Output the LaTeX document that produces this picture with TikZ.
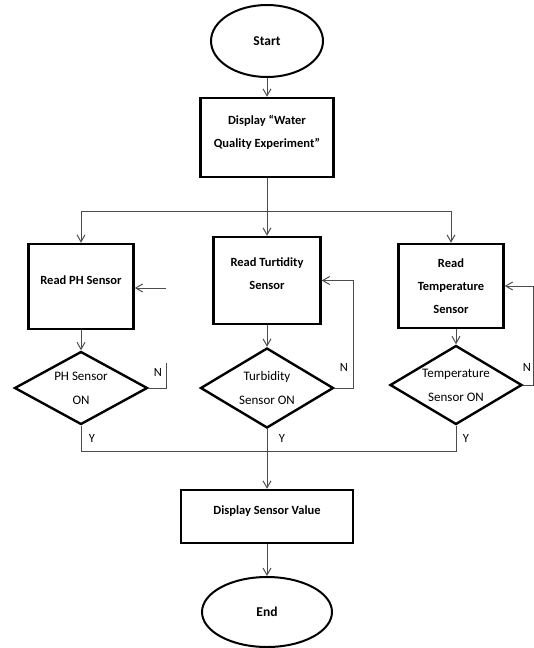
\documentclass[tikz,border=0pt]{standalone}
\usepackage{fontspec}
\setmainfont{Carlito}
\usetikzlibrary{shapes.geometric,arrows.meta}

\tikzset{
	procbox/.style={draw, rectangle, line width=2.4pt, align=center, inner sep=2pt, font=\fontsize{12.5}{23}\selectfont\bfseries},
	raised/.style={text depth=13pt},
	termnode/.style={draw, ellipse, line width=2pt, inner sep=0pt, font=\fontsize{13.5}{14}\selectfont\bfseries},
	checknode/.style={draw, diamond, aspect=1.8, line width=2.4pt, align=center, inner sep=0pt, font=\fontsize{13}{24}\selectfont},
	flow/.style={line width=1pt, color=black!70},
	flowarrow/.style={flow, -{Straight Barb[length=7pt,width=8pt]}},
	yn/.style={inner sep=0pt, font=\fontsize{12.5}{14}\selectfont}
}

% [options], name, x, y, width, height, text
\newcommand{\procstep}[7][] {
	\node[procbox, minimum width=#5, minimum height=#6, #1] (#2) at (#3,#4) {#7};
}
\newcommand{\sensorcheck}[6] {
	\node[checknode, minimum width=#4, minimum height=#5] (#1) at (#2,#3) {#6};
}

\begin{document}
\begin{tikzpicture}[x=1pt, y=-1pt]
	\useasboundingbox (0,0) rectangle (534,648);

	\node[termnode, minimum width=112, minimum height=72] (start) at (267,41) {Start};
	\procstep[raised]{display}{267}{137.5}{133}{79}{Display “Water\\Quality Experiment”}

	\procstep[raised]{readph}{81}{286.5}{105}{85}{Read PH Sensor}
	\procstep[raised]{readturb}{267}{280.5}{107}{87}{Read Turtidity\\Sensor}
	\procstep{readtemp}{451}{286}{105}{84}{Read\\Temperature\\Sensor}

	\sensorcheck{phon}{81}{388}{133}{73}{PH Sensor\\ON}
	\sensorcheck{turbon}{267}{388}{133}{80}{Turbidity\\Sensor ON}
	\sensorcheck{tempon}{456}{385}{132}{79}{Temperature\\Sensor ON}

	\procstep[raised]{showvalue}{267}{516.5}{172}{53}{Display Sensor Value}
	\node[termnode, minimum width=130, minimum height=70] (stop) at (267,612) {End};

	% branching to the three sensors
	\coordinate (split) at (267,211);
	\draw[flowarrow] (start) -- (display);
	\draw[flowarrow] (display) -- (readturb);
	\draw[flowarrow] (split) -| (readph.north);
	\draw[flowarrow] (split) -| (readtemp.north);

	\draw[flowarrow] (readph) -- (phon);
	\draw[flowarrow] (readturb) -- (turbon);
	\draw[flowarrow] (tempon.north |- readtemp.south) -- (tempon.north);

	% N loops
	\coordinate (phloop) at (166,363);
	\coordinate (phback) at (166,288);
	\draw[flow] (phon.east) -| (phloop);
	\draw[flowarrow] (phback) -- (readph.east |- phback);
	\draw[flowarrow] (turbon.east) -- ++(19,0) |- (readturb.east);
	\draw[flowarrow] (tempon.east) -- ++(10,0) |- (readtemp.east);

	\node[yn] (phn) at (158,372) {N};
	\node[yn] (turbn) at (344,367) {N};
	\node[yn] (tempn) at (527,367) {N};

	% Y branches
	\coordinate (merge) at (267,451);
	\draw[flow] (phon.south) |- (merge);
	\draw[flow] (tempon.south) |- (merge);
	\draw[flowarrow] (turbon.south) -- (showvalue.north);
	\draw[flowarrow] (showvalue) -- (stop);

	\node[yn] (phy) at (92,438) {Y};
	\node[yn] (turby) at (282,438) {Y};
	\node[yn] (tempy) at (466,438) {Y};
\end{tikzpicture}
\end{document}
